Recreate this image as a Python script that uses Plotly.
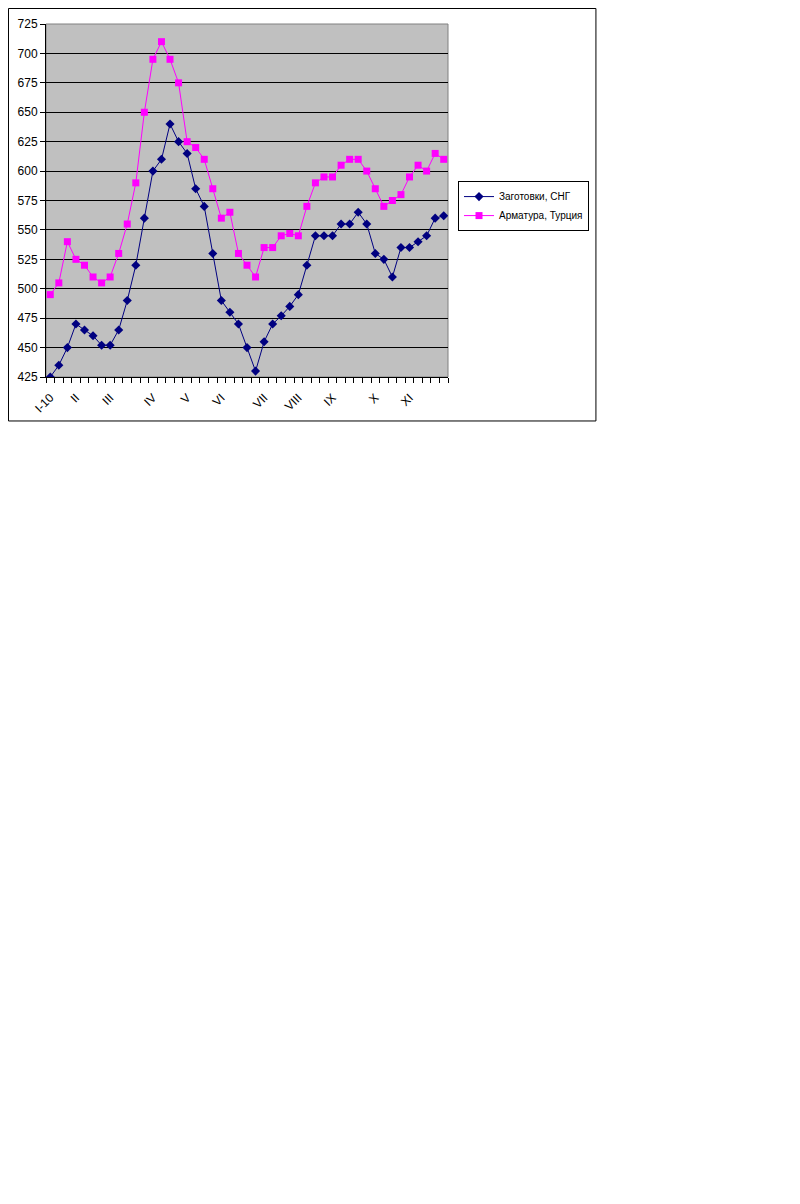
import plotly.graph_objects as go

weeks = list(range(47))
blanks_ru = [
    425, 435, 450, 470, 465, 460, 452, 452, 465, 490, 520, 560, 600, 610, 640, 625,
    615, 585, 570, 530, 490, 480, 470, 450, 430, 455, 470, 477, 485, 495, 520, 545,
    545, 545, 555, 555, 565, 555, 530, 525, 510, 535, 535, 540, 545, 560, 562,
]
rebar_tr = [
    495, 505, 540, 525, 520, 510, 505, 510, 530, 555, 590, 650, 695, 710, 695, 675,
    625, 620, 610, 585, 560, 565, 530, 520, 510, 535, 535, 545, 547, 545, 570, 590,
    595, 595, 605, 610, 610, 600, 585, 570, 575, 580, 595, 605, 600, 615, 610,
]
month_pos = [0, 3, 7, 12, 16, 20, 25, 29, 33, 38, 42]
month_labels = ["I-10", "II", "III", "IV", "V", "VI", "VII", "VIII", "IX", "X", "XI"]
y_ticks = list(range(425, 726, 25))

FONT = "Arial, Liberation Sans, sans-serif"

fig = go.Figure()
fig.add_trace(go.Scatter(
    x=weeks, y=blanks_ru, name="Заготовки, СНГ", mode="lines+markers",
    line=dict(color="#000080", width=1),
    marker=dict(symbol="diamond", size=7, color="#000080"),
))
fig.add_trace(go.Scatter(
    x=weeks, y=rebar_tr, name="Арматура, Турция", mode="lines+markers",
    line=dict(color="#FF00FF", width=1),
    marker=dict(symbol="square", size=7, color="#FF00FF"),
))

fig.update_layout(
    width=792, height=1196,
    margin=dict(l=38, r=352, t=16, b=827, pad=0),
    paper_bgcolor="white", plot_bgcolor="#C0C0C0",
    font=dict(family=FONT, size=12, color="black"),
    showlegend=True,
    legend=dict(
        x=1.0249, y=0.555, xanchor="left", yanchor="top",
        bgcolor="white", bordercolor="black", borderwidth=1,
        font=dict(family=FONT, size=10, color="black"),
        tracegroupgap=0, itemwidth=30,
    ),
    xaxis=dict(
        range=[-0.5, 46.5], tickmode="array", tickvals=month_pos, ticktext=month_labels,
        tickangle=-45, ticks="", showgrid=False, zeroline=False,
        showline=True, linecolor="black", linewidth=1, ticklabelstandoff=8,
        minor=dict(tick0=-0.5, dtick=1, ticks="outside", ticklen=5, tickcolor="black", showgrid=False),
        tickfont=dict(family=FONT, size=12), automargin=False,
    ),
    yaxis=dict(
        range=[425, 725], tickmode="array", tickvals=y_ticks,
        ticks="outside", ticklen=5, tickcolor="black",
        showgrid=True, gridcolor="black", gridwidth=1, zeroline=False,
        showline=True, linecolor="black", linewidth=1,
        tickfont=dict(family=FONT, size=12), automargin=False,
    ),
    shapes=[
        dict(type="rect", xref="paper", yref="paper", x0=0, x1=1, y0=0, y1=1,
             line=dict(color="#808080", width=1), layer="below"),
        dict(type="rect", xref="paper", yref="paper", x0=-0.0933, x1=1.368, y0=-0.1246, y1=1.0439,
             line=dict(color="black", width=1), layer="below"),
    ],
)

fig.write_html("out.html")
